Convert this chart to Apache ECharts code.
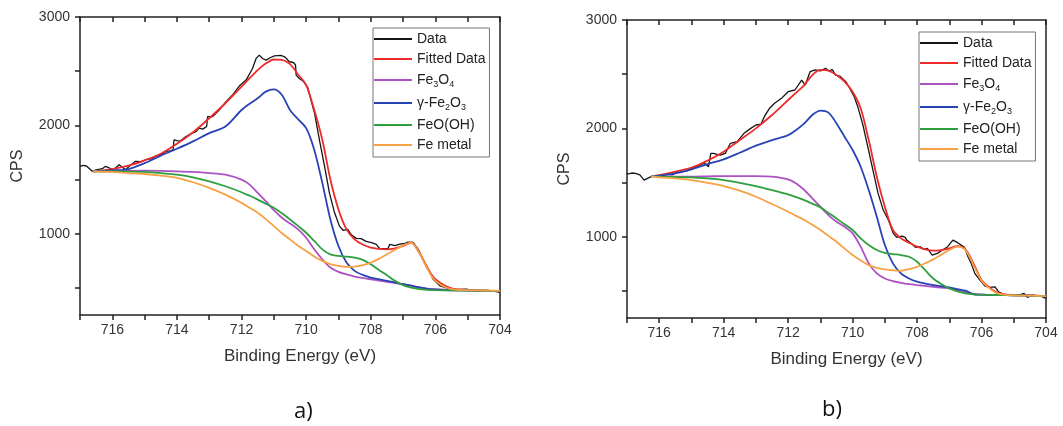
<!DOCTYPE html>
<html><head><meta charset="utf-8">
<script src="https://cdn.jsdelivr.net/npm/echarts@6/dist/echarts.min.js"></script>
<style>html,body{margin:0;padding:0;background:#fff}#c{width:1063px;height:426px}</style>
</head><body><div id="c"></div>
<script>
// ---- tick values ----
const xTickValues = [704,705,706,707,708,709,710,711,712,713,714,715,716,717];
const xLabelValues = [704,706,708,710,712,714,716];
const yTickValues = [500,1000,1500,2000,2500,3000];
const yLabelValues = [1000,2000,3000];
const seriesNames = ['Data','Fitted Data','Fe3O4','γ-Fe2O3','FeO(OH)','Fe metal'];

// ---- panel a ----
const aDataE = [717.0,716.9,716.8,716.62,716.5,716.31,716.21,716.0,715.9,715.79,715.59,715.45,715.28,715.1,714.97,714.8,714.66,714.5,714.34,714.2,714.12,714.09,714.0,713.9,713.72,713.52,713.4,713.31,713.2,713.08,713.05,712.9,712.69,712.48,712.28,712.07,711.86,711.66,711.55,711.45,711.35,711.24,711.1,710.98,710.78,710.65,710.52,710.4,710.33,710.31,710.21,710.1,709.95,709.85,709.74,709.59,709.43,709.28,709.12,708.97,708.85,708.71,708.6,708.45,708.3,708.14,707.95,707.83,707.72,707.47,707.41,707.25,707.1,706.95,706.85,706.69,706.53,706.38,706.22,706.07,705.86,705.6,705.35,705.03,704.9,704.72,704.41,704.2,704.0];
const aDataV = [1622,1630,1625,1576,1590,1600,1622,1595,1606,1637,1591,1630,1668,1665,1683,1690,1714,1730,1760,1765,1775,1867,1860,1855,1897,1928,1945,1974,1965,1990,2081,2080,2142,2219,2280,2363,2418,2525,2617,2648,2617,2602,2626,2642,2645,2630,2587,2580,2560,2464,2433,2410,2351,2234,2112,1867,1622,1377,1193,1070,1030,1040,990,957,955,930,915,902,862,862,902,890,905,910,923,920,856,764,672,580,519,495,483,488,478,473,478,470,458];
const aCompE = [716.6,716,715.5,715,714.5,714,713.5,713,712.5,712,711.75,711.5,711.25,711,710.75,710.5,710.25,710,709.75,709.5,709.25,709,708.75,708.5,708.25,708,707.75,707.5,707.25,707,706.75,706.5,706.25,706,705.5,705,704.5,704];
const aFit   = [1576,1597,1628,1677,1738,1830,1937,2066,2204,2357,2435,2510,2570,2608,2605,2565,2470,2372,2143,1867,1500,1224,1040,948,900,871,860,856,865,887,917,825,688,580,495,482,476,470];
const aFe3O4 = [1576,1576,1580,1582,1580,1576,1570,1560,1545,1499,1453,1377,1300,1217,1147,1095,1040,963,856,764,688,648,625,605,592,580,568,556,545,534,520,504,494,488,480,477,474,472];
const aGFe2O3= [1576,1585,1597,1652,1720,1784,1852,1928,1989,2142,2200,2250,2311,2332,2280,2142,2057,1974,1775,1469,1132,887,734,657,620,596,580,565,550,534,520,504,492,485,478,476,474,472];
const aFeOOH = [1576,1576,1574,1570,1560,1545,1521,1484,1438,1383,1350,1315,1278,1239,1188,1132,1072,1009,933,856,810,795,789,779,758,718,666,617,565,525,502,488,482,479,477,476,474,472];
const aFeMet = [1576,1570,1560,1551,1536,1515,1475,1423,1361,1285,1240,1193,1135,1070,1005,948,890,841,790,749,720,703,695,697,710,734,768,810,852,893,917,825,678,565,488,479,476,473];

// ---- panel b ----
const bDataE = [717.0,716.85,716.74,716.6,716.47,716.35,716.21,716.0,715.79,715.6,715.47,715.3,715.16,714.95,714.74,714.6,714.47,714.4,714.32,714.11,713.95,713.79,713.58,713.37,713.16,713.0,712.84,712.74,712.58,712.42,712.21,712.0,711.79,711.58,711.47,711.32,711.16,711.0,710.84,710.74,710.63,710.53,710.4,710.21,710.11,709.95,709.84,709.68,709.53,709.37,709.21,709.05,708.89,708.74,708.63,708.47,708.37,708.32,708.16,708.05,707.9,707.79,707.68,707.53,707.37,707.21,707.05,706.89,706.74,706.53,706.42,706.32,706.21,706.05,705.89,705.74,705.58,705.47,705.32,705.05,704.84,704.68,704.58,704.42,704.16,704.0];
const bDataV = [1578,1588,1585,1570,1523,1540,1560,1554,1578,1570,1592,1600,1606,1631,1662,1677,1646,1769,1770,1754,1769,1862,1877,1954,2000,2031,2040,2108,2185,2231,2277,2338,2354,2446,2400,2523,2539,2530,2554,2531,2543,2492,2483,2431,2379,2293,2200,2031,1831,1615,1400,1246,1154,1031,994,1006,994,969,932,902,908,883,892,831,846,877,908,969,945,902,815,754,662,600,545,532,538,492,468,462,462,477,440,462,452,431];
const bCompE = [716.25,716,715.5,715,714.5,714,713.5,713,712.5,712,711.75,711.5,711.25,711,710.75,710.5,710.25,710,709.75,709.5,709.25,709,708.75,708.5,708.25,708,707.75,707.5,707.25,707,706.75,706.5,706.25,706,705.75,705.5,705,704.5,704];
const bFit   = [1560,1569,1600,1637,1702,1785,1892,2000,2123,2262,2330,2400,2492,2539,2532,2492,2431,2338,2185,1892,1554,1277,1062,985,945,908,883,871,877,892,914,883,754,600,532,483,462,458,452];
const bFe3O4 = [1560,1556,1555,1554,1557,1560,1560,1560,1554,1529,1492,1431,1354,1277,1200,1138,1092,1031,908,754,662,615,590,575,563,554,546,538,530,523,508,492,471,465,463,462,460,457,452];
const bGFe2O3= [1560,1563,1585,1622,1671,1714,1775,1840,1892,1938,1985,2046,2123,2163,2145,2046,1923,1800,1646,1431,1185,923,754,662,615,585,568,554,543,532,517,502,471,465,463,462,460,457,452];
const bFeOOH = [1560,1554,1551,1548,1538,1523,1498,1468,1431,1391,1365,1338,1305,1271,1220,1169,1115,1062,985,923,877,852,840,831,815,769,692,615,563,523,495,477,468,465,463,462,460,457,452];
const bFeMet = [1560,1548,1538,1523,1498,1468,1425,1369,1302,1231,1192,1154,1110,1062,1008,954,890,831,780,738,712,698,690,686,700,723,755,791,835,877,908,877,738,594,523,477,458,456,452];

const colors = {'Data':'#151515','Fitted Data':'#ee2b2b','Fe3O4':'#ad52c2','γ-Fe2O3':'#2743b5','FeO(OH)':'#2e9e3e','Fe metal':'#f7a144'};
const FONT = '"Liberation Sans", Arial, sans-serif';
const pair = (es, vs) => es.map((e, i) => [e, vs[i]]);

const grids = [
  {left: 80, top: 17, width: 420, height: 298},
  {left: 627, top: 20, width: 419, height: 298}
];
const axisLineStyle = {color: '#222', width: 1.5};

const xAxes = [], yAxes = [];
grids.forEach((g, gi) => {
  xAxes.push({
    gridIndex: gi, type: 'value', min: 704, max: 717, inverse: true, position: 'bottom',
    axisLine: {show: true, onZero: false, lineStyle: axisLineStyle},
    axisTick: {show: true, customValues: xTickValues, length: 5, lineStyle: axisLineStyle},
    axisLabel: {customValues: xLabelValues, fontFamily: FONT, fontSize: 14, color: '#333', margin: 8,
                formatter: v => String(v)},
    splitLine: {show: false},
    name: 'Binding Energy (eV)', nameLocation: 'middle', nameGap: 33,
    nameTextStyle: {fontFamily: FONT, fontSize: 17, color: '#333', padding: [0, 0, 0, 20]}
  });
  xAxes.push({
    gridIndex: gi, type: 'value', min: 704, max: 717, inverse: true, position: 'top',
    axisLine: {show: true, onZero: false, lineStyle: axisLineStyle},
    axisTick: {show: true, inside: true, customValues: xTickValues, length: 5, lineStyle: axisLineStyle},
    axisLabel: {show: false}, splitLine: {show: false}
  });
  yAxes.push({
    gridIndex: gi, type: 'value', min: 250, max: 3000, position: 'left',
    axisLine: {show: true, onZero: false, lineStyle: axisLineStyle},
    axisTick: {show: true, customValues: yTickValues, length: 5, lineStyle: axisLineStyle},
    axisLabel: {customValues: yLabelValues, fontFamily: FONT, fontSize: 14, color: '#333', margin: 10,
                formatter: v => String(v)},
    splitLine: {show: false},
    name: 'CPS', nameLocation: 'middle', nameGap: 54,
    nameTextStyle: {fontFamily: FONT, fontSize: 16, color: '#333'}
  });
  yAxes.push({
    gridIndex: gi, type: 'value', min: 250, max: 3000, position: 'right',
    axisLine: {show: true, onZero: false, lineStyle: axisLineStyle},
    axisTick: {show: false}, axisLabel: {show: false}, splitLine: {show: false}
  });
});

function mk(name, gi, data, smooth, width) {
  return {
    name: name, type: 'line', xAxisIndex: gi * 2, yAxisIndex: gi * 2,
    data: data, symbol: 'none', showSymbol: false, smooth: smooth,
    lineStyle: {color: colors[name], width: width}, itemStyle: {color: colors[name]},
    silent: true, animation: false
  };
}
const series = [
  mk('Data', 0, pair(aDataE, aDataV), false, 1.3),
  mk('Fitted Data', 0, pair(aCompE, aFit), 0.3, 1.8),
  mk('Fe3O4', 0, pair(aCompE, aFe3O4), 0.3, 1.8),
  mk('γ-Fe2O3', 0, pair(aCompE, aGFe2O3), 0.3, 1.8),
  mk('FeO(OH)', 0, pair(aCompE, aFeOOH), 0.3, 1.8),
  mk('Fe metal', 0, pair(aCompE, aFeMet), 0.3, 1.8),
  mk('Data', 1, pair(bDataE, bDataV), false, 1.3),
  mk('Fitted Data', 1, pair(bCompE, bFit), 0.3, 1.8),
  mk('Fe3O4', 1, pair(bCompE, bFe3O4), 0.3, 1.8),
  mk('γ-Fe2O3', 1, pair(bCompE, bGFe2O3), 0.3, 1.8),
  mk('FeO(OH)', 1, pair(bCompE, bFeOOH), 0.3, 1.8),
  mk('Fe metal', 1, pair(bCompE, bFeMet), 0.3, 1.8)
];

const legendLabels = {
  'Data': '{t|Data}',
  'Fitted Data': '{t|Fitted Data}',
  'Fe3O4': '{t|Fe}{s|3}{t|O}{s|4}',
  'γ-Fe2O3': '{t|γ-Fe}{s|2}{t|O}{s|3}',
  'FeO(OH)': '{t|FeO(OH)}',
  'Fe metal': '{t|Fe metal}'
};
function legend(left, top) {
  return {
    left: left, top: top, orient: 'vertical', data: seriesNames,
    icon: 'rect', itemWidth: 38, itemHeight: 2, itemGap: 6,
    padding: [4, 4, 5, 1], borderColor: '#777', borderWidth: 1, backgroundColor: '#fff',
    selectedMode: false,
    formatter: n => legendLabels[n],
    textStyle: {
      fontFamily: FONT, fontSize: 14, color: '#222',
      rich: {
        t: {fontFamily: FONT, fontSize: 14, color: '#222', lineHeight: 18, verticalAlign: 'middle'},
        s: {fontFamily: FONT, fontSize: 9, color: '#222', lineHeight: 18, padding: [8, 0, 0, 0], verticalAlign: 'bottom'}
      }
    }
  };
}

const chart = echarts.init(document.getElementById('c'), null, {renderer: 'canvas'});
chart.setOption({
  backgroundColor: '#fff',
  animation: false,
  grid: grids,
  xAxis: xAxes,
  yAxis: yAxes,
  legend: [legend(373, 28), legend(919, 32)],
  series: series,
  graphic: [
    {type: 'text', left: 294, top: 401, style: {text: 'a)', font: '22px "Open Sans", "Noto Sans", sans-serif', fill: '#111'}},
    {type: 'text', left: 822, top: 399, style: {text: 'b)', font: '22px "Open Sans", "Noto Sans", sans-serif', fill: '#111'}}
  ]
});
</script>
</body></html>
